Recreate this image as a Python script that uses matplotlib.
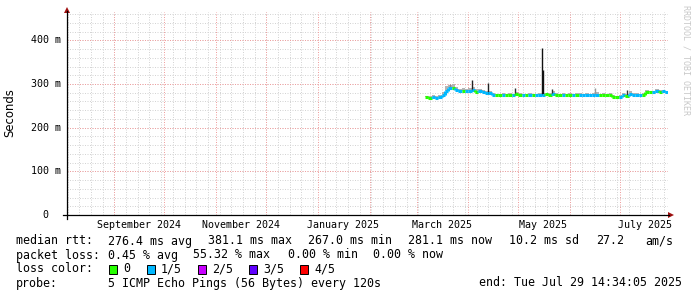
import numpy as np
import pandas as pd
import matplotlib
matplotlib.use('Agg')
import matplotlib.pyplot as plt
import matplotlib.dates as mdates
from matplotlib.patches import Rectangle, Polygon
from matplotlib.lines import Line2D

# graph window (360 days ending at the "end" stamp)
t_start = '2024-08-03 14:34:05'
t_end = '2025-07-29 14:34:05'

# median rtt in ms, one sample every 2 days from the first sample
first_sample = '2025-03-06'
median = [270, 269, 270, 269, 270, 275, 285, 290, 292, 287,
          283, 284, 283, 285, 286, 282, 283, 281, 279, 279,
          276, 275, 275, 276, 275, 276, 275, 277, 276, 275,
          275, 276, 275, 275, 276, 276, 277, 276, 278, 276,
          275, 276, 275, 276, 275, 276, 276, 275, 276, 275,
          276, 276, 275, 276, 275, 276, 271, 270, 270, 274,
          272, 278, 274, 276, 275, 276, 282, 282, 281, 283,
          282, 283, 281]
# packet loss class per sample (0 -> 0, 1 -> 1/5)
loss = [0, 0, 1, 1, 1, 1, 1, 1, 0, 1,
        1, 0, 1, 1, 1, 0, 1, 1, 1, 1,
        1, 0, 0, 1, 0, 0, 1, 0, 0, 1,
        0, 1, 0, 1, 1, 1, 0, 0, 1, 0,
        0, 1, 0, 0, 1, 0, 1, 1, 1, 1,
        1, 1, 0, 0, 0, 0, 0, 0, 1, 1,
        0, 1, 1, 1, 1, 0, 0, 0, 1, 1,
        0, 1, 1]
# upper edge of the smoke
smoke_hi = [273, 272, 276, 273, 274, 282, 295, 298, 300, 293,
            289, 290, 288, 292, 294, 288, 289, 286, 284, 285,
            279, 278, 278, 279, 278, 279, 278, 281, 279, 278,
            278, 279, 278, 278, 280, 279, 280, 279, 283, 279,
            278, 279, 278, 279, 278, 279, 279, 278, 279, 278,
            279, 281, 278, 279, 278, 279, 274, 273, 275, 280,
            278, 284, 279, 280, 278, 279, 286, 285, 285, 288,
            286, 287, 284]

# single-sample smoke spikes
spike_dates = ['2025-03-21', '2025-04-03', '2025-04-13', '2025-04-29', '2025-05-15',
               '2025-05-16', '2025-05-21', '2025-06-16', '2025-07-05']
spike_base = [288, 285, 278, 276, 276, 276, 277, 276, 273]
spike_top = [300, 310, 302, 290, 383, 333, 289, 290, 287]
spike_shade = ['#888888', '#222222', '#222222', '#333333', '#111111',
               '#111111', '#333333', '#999999', '#333333']

y_ticks = [0, 100, 200, 300, 400]
y_labels = ['0', '100 m', '200 m', '300 m', '400 m']
x_labels = ['September 2024', 'November 2024', 'January 2025',
            'March 2025', 'May 2025', 'July 2025']
x_label_dates = ['2024-09-16', '2024-11-16', '2025-01-16',
                 '2025-03-16', '2025-05-16', '2025-07-16']

loss_colors = ['#26ff00', '#00b8ff', '#c800ff', '#6000ff', '#ff0000']
loss_names = ['0', '1/5', '2/5', '3/5', '4/5']

W, H = 697, 297
def fx(x):
    return x / W
def fy(y):
    return 1 - y / H

mono = 'DejaVu Sans Mono'
fs = 8.4      # legend text
fs_ax = 7.2   # axis labels

fig = plt.figure(figsize=(W / 100, H / 100), dpi=100)
ax = fig.add_axes([fx(67), fy(215), fx(668) - fx(67), fy(12) - fy(215)])
x0 = mdates.date2num(pd.Timestamp(t_start))
x1 = mdates.date2num(pd.Timestamp(t_end))
ax.set_xlim(x0, x1)
ax.set_ylim(0, 465)
ax.axis('off')

# grid (dotted)
grid_kw = dict(lw=0.72, ls=(0, (1, 1.5)))
minor_x = pd.date_range('2024-08-04', t_end, freq='7D')
major_x = pd.date_range('2024-09-01', t_end, freq='MS')
for d in minor_x:
    ax.axvline(mdates.date2num(d), color='#d4d4d4', zorder=1, **grid_kw)
for v in range(20, 465, 20):
    ax.axhline(v, color='#d4d4d4', zorder=1, **grid_kw)
for d in major_x:
    ax.axvline(mdates.date2num(d), color='#f0a0a0', zorder=2, **grid_kw)
for v in y_ticks[1:]:
    ax.axhline(v, color='#f0a0a0', zorder=2, **grid_kw)

# data
t = mdates.date2num(pd.date_range(first_sample, periods=len(median) + 1, freq='2D'))
t = np.minimum(t, x1)
med = np.array(median, float)
hi = np.array(smoke_hi, float)
ax.fill_between(t, np.append(med, med[-1]), np.append(hi, hi[-1]), step='post',
                color='#b4b4b4', lw=0, zorder=3)
sd = mdates.date2num(pd.to_datetime(spike_dates))
ax.vlines(sd, spike_base, spike_top, colors=spike_shade, lw=1.0, zorder=4)

cols = [loss_colors[k] for k in loss]
ax.hlines(med, t[:-1], t[1:], colors=cols, lw=2.2, zorder=5, capstyle='butt')
ax.vlines(t[1:-1], med[:-1], med[1:], colors=cols[1:], lw=2.2, zorder=5)

# axes lines and arrows
fig.add_artist(Line2D([fx(63), fx(669)], [fy(215), fy(215)], color='black', lw=0.9))
fig.add_artist(Line2D([fx(67), fx(67)], [fy(219), fy(11)], color='black', lw=0.9))
fig.add_artist(Polygon([[fx(668), fy(212)], [fx(674), fy(215)], [fx(668), fy(218)]],
                       closed=True, color='#a01010', lw=0))
fig.add_artist(Polygon([[fx(64), fy(13)], [fx(67), fy(7)], [fx(70), fy(13)]],
                       closed=True, color='#a01010', lw=0))

# tick labels
for v, lab in zip(y_ticks, y_labels):
    yy = ax.transData.transform((x0, v))[1] / H
    xr = 61 if ' m' in lab else 48
    fig.text(fx(xr), yy, lab, ha='right', va='center', family=mono, fontsize=fs_ax)
for d, lab in zip(x_label_dates, x_labels):
    xx = ax.transData.transform((mdates.date2num(pd.Timestamp(d)), 0))[0] / W
    fig.text(xx, fy(225), lab, ha='center', va='center', family=mono, fontsize=fs_ax)

fig.text(fx(10), fy(113), 'Seconds', rotation=90, ha='center', va='center',
         family='DejaVu Sans', fontsize=fs)
fig.text(fx(686), fy(5), 'RRDTOOL / TOBI OETIKER', rotation=270, ha='center', va='top',
         family=mono, fontsize=6, color='#c8c8c8')

# legend block
line1 = [(16, 'median rtt:'), (108, '276.4 ms avg'), (208, '381.1 ms max'),
         (308, '267.0 ms min'), (408, '281.1 ms now'), (509, '10.2 ms sd'),
         (596, '27.2'), (645, 'am/s')]
line2 = [(16, 'packet loss:'), (108, '0.45 % avg'), (193, '55.32 % max'),
         (288, '0.00 % min'), (373, '0.00 % now')]
for xx, s in line1:
    fig.text(fx(xx), fy(241), s, ha='left', va='center', family=mono, fontsize=fs)
for xx, s in line2:
    fig.text(fx(xx), fy(255), s, ha='left', va='center', family=mono, fontsize=fs)

fig.text(fx(16), fy(269), 'loss color:', ha='left', va='center', family=mono, fontsize=fs)
box_x = [109, 147, 198, 249, 300]
for bx, c, name in zip(box_x, loss_colors, loss_names):
    fig.add_artist(Rectangle((fx(bx), fy(273.5)), 8 / W, 9 / H, facecolor=c,
                             edgecolor='black', lw=0.7))
    fig.text(fx(bx + 14), fy(269), name, ha='left', va='center', family=mono, fontsize=fs)

fig.text(fx(16), fy(283), 'probe:', ha='left', va='center', family=mono, fontsize=fs)
fig.text(fx(108), fy(283), '5 ICMP Echo Pings (56 Bytes) every 120s', ha='left',
         va='center', family=mono, fontsize=fs)
fig.text(fx(682), fy(283), 'end: Tue Jul 29 14:34:05 2025', ha='right',
         va='center', family=mono, fontsize=fs)

fig.savefig('out.png', dpi=100, facecolor='white')
